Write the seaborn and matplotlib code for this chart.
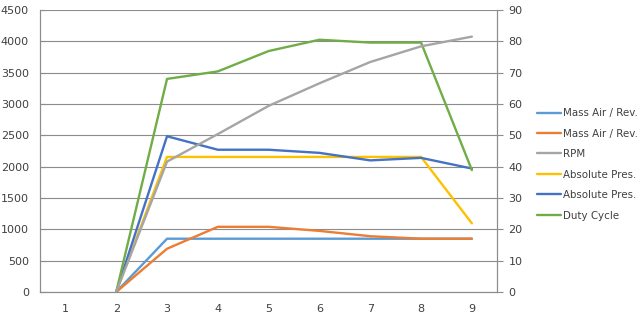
import numpy as np
import pandas as pd
import matplotlib
matplotlib.use("Agg")
import matplotlib.pyplot as plt
import seaborn as sns

categories = [1, 2, 3, 4, 5, 6, 7, 8, 9]
mass_air_1 = [np.nan, 0, 17.0, 17.0, 17.0, 17.0, 17.0, 17.0, 17.0]
mass_air_2 = [np.nan, 0, 13.8, 20.8, 20.8, 19.5, 17.8, 17.0, 17.0]
rpm = [np.nan, 0, 2080, 2520, 2970, 3330, 3670, 3920, 4075]
abs_pres_1 = [np.nan, 0, 43.1, 43.1, 43.1, 43.1, 43.1, 43.1, 21.9]
abs_pres_2 = [np.nan, 0, 49.7, 45.4, 45.4, 44.4, 42.0, 42.8, 39.4]
duty_cycle = [np.nan, 0, 68.0, 70.4, 76.9, 80.5, 79.6, 79.6, 38.9]

left_ticks = [0, 500, 1000, 1500, 2000, 2500, 3000, 3500, 4000, 4500]
right_ticks = [0, 10, 20, 30, 40, 50, 60, 70, 80, 90]

sns.set_style("white")
plt.rcParams['font.family'] = ['DejaVu Sans']

fig = plt.figure(figsize=(6.4, 3.22), dpi=100)
ax = fig.add_axes([0.0625, 0.0932, 0.7145, 0.8758])
ax2 = ax.twinx()

grid_c = "#8c8c8c"
text_c = "#404040"

ax.set_zorder(2)
ax.patch.set_visible(False)

series_secondary = [
    ("Mass Air / Rev.", mass_air_1, "#5B9BD5"),
    ("Mass Air / Rev.", mass_air_2, "#ED7D31"),
    ("Absolute Pres.", abs_pres_1, "#FFC000"),
    ("Absolute Pres.", abs_pres_2, "#4472C4"),
    ("Duty Cycle", duty_cycle, "#70AD47"),
]

handles = {}
for name, vals, col in series_secondary:
    df = pd.DataFrame({"x": categories, "y": vals})
    sns.lineplot(data=df, x="x", y="y", ax=ax2, color=col, linewidth=1.7)
    handles[(name, col)] = ax2.lines[-1]

df = pd.DataFrame({"x": categories, "y": rpm})
sns.lineplot(data=df, x="x", y="y", ax=ax, color="#A5A5A5", linewidth=1.7)
rpm_line = ax.lines[-1]

ax.set_ylim(0, 4500)
ax2.set_ylim(0, 90)
ax.set_xlim(0.5, 9.5)
ax.set_yticks(left_ticks)
ax2.set_yticks(right_ticks)
ax.set_xticks(categories)
ax.set_xticklabels([str(c) for c in categories])
ax.set_xticks(np.arange(0.5, 10, 1), minor=True)
ax.set_xlabel("")
ax.set_ylabel("")
ax2.set_ylabel("")

ax2.yaxis.grid(True, color=grid_c, linewidth=0.8)
ax2.set_axisbelow(True)
ax.yaxis.grid(False)

for a in (ax, ax2):
    a.spines["top"].set_visible(False)
    for s in ("left", "right", "bottom"):
        a.spines[s].set_color(grid_c)
        a.spines[s].set_linewidth(0.8)

ax.tick_params(axis="y", which="major", length=4, direction="in", color=grid_c,
               labelsize=8, labelcolor=text_c, pad=8)
ax2.tick_params(axis="y", which="major", length=4, direction="out", color=grid_c,
                labelsize=8, labelcolor=text_c, pad=4)
ax.tick_params(axis="x", which="major", length=0, labelsize=8, labelcolor=text_c, pad=9)
ax.tick_params(axis="x", which="minor", length=4, direction="out", color=grid_c)

leg_handles = [handles[("Mass Air / Rev.", "#5B9BD5")],
               handles[("Mass Air / Rev.", "#ED7D31")],
               rpm_line,
               handles[("Absolute Pres.", "#FFC000")],
               handles[("Absolute Pres.", "#4472C4")],
               handles[("Duty Cycle", "#70AD47")]]
leg_labels = ["Mass Air / Rev.", "Mass Air / Rev.", "RPM", "Absolute Pres.",
              "Absolute Pres.", "Duty Cycle"]
leg = fig.legend(leg_handles, leg_labels, loc="upper left",
                 bbox_to_anchor=(0.832, 0.677), frameon=False, fontsize=7.4,
                 handlelength=2.4, handletextpad=0.15, labelspacing=1.02,
                 borderaxespad=0)
for t in leg.get_texts():
    t.set_color(text_c)
for a in (ax, ax2):
    if a.get_legend():
        a.get_legend().remove()

fig.savefig("out.png", dpi=100)
